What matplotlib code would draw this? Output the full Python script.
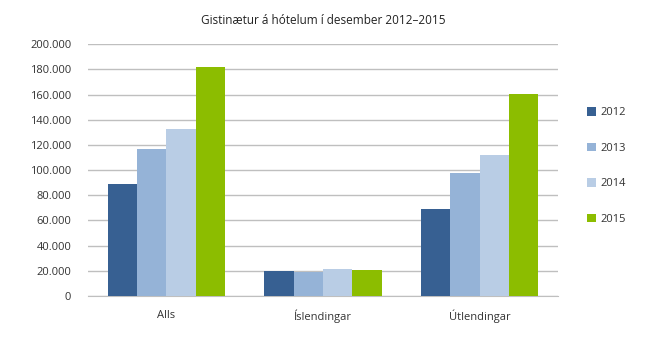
import matplotlib
matplotlib.use("Agg")
import matplotlib.pyplot as plt
import numpy as np
from matplotlib.ticker import FuncFormatter

categories = ["Alls", "Íslendingar", "Útlendingar"]
years = ["2012", "2013", "2014", "2015"]
v2012 = [89000, 19800, 69000]
v2013 = [116800, 19300, 97600]
v2014 = [133000, 21400, 112000]
v2015 = [181800, 20600, 160500]
series = [v2012, v2013, v2014, v2015]
colors = ["#376092", "#95B3D7", "#B9CDE5", "#8CBD00"]
title = "Gistinætur á hótelum í desember 2012–2015"

plt.rcParams['font.family'] = ['Open Sans', 'DejaVu Sans']

fig = plt.figure(figsize=(6.46, 3.40), dpi=100)
ax = fig.add_axes([88/646, 1-296/340, (558-88)/646, (296-44.3)/340])

x = np.arange(len(categories))
w = 0.187
for i, (vals, c, lab) in enumerate(zip(series, colors, years)):
    ax.bar(x + (i - 1.5) * w, vals, width=w, color=c, label=lab, zorder=3)

ax.set_xlim(-0.5, 2.5)
ax.set_ylim(0, 200000)
ax.set_yticks(np.arange(0, 200001, 20000))
ax.yaxis.set_major_formatter(FuncFormatter(lambda v, p: f"{int(v):,}".replace(",", ".")))
ax.set_xticks(x)
ax.set_xticklabels(categories)
ax.grid(axis='y', color='#BFBFBF', linewidth=1, zorder=0)
for s in ['top', 'right', 'left']:
    ax.spines[s].set_visible(False)
ax.spines['bottom'].set_color('#BFBFBF')
ax.tick_params(axis='both', length=0, labelsize=8, colors='#333333')
ax.tick_params(axis='y', pad=12)
ax.tick_params(axis='x', pad=10)

fig.text(0.5, 1-20/340, title, ha='center', va='center', fontsize=8.5, color='#222222')

handles, labels = ax.get_legend_handles_labels()
leg = fig.legend(handles, labels, loc='center left', bbox_to_anchor=(577/646, 1-166/340),
                 frameon=False, fontsize=8, handlelength=0.8, handleheight=0.8,
                 handletextpad=0.4, labelspacing=2.2)
for t in leg.get_texts():
    t.set_color('#333333')

fig.savefig("out.png", dpi=100)
